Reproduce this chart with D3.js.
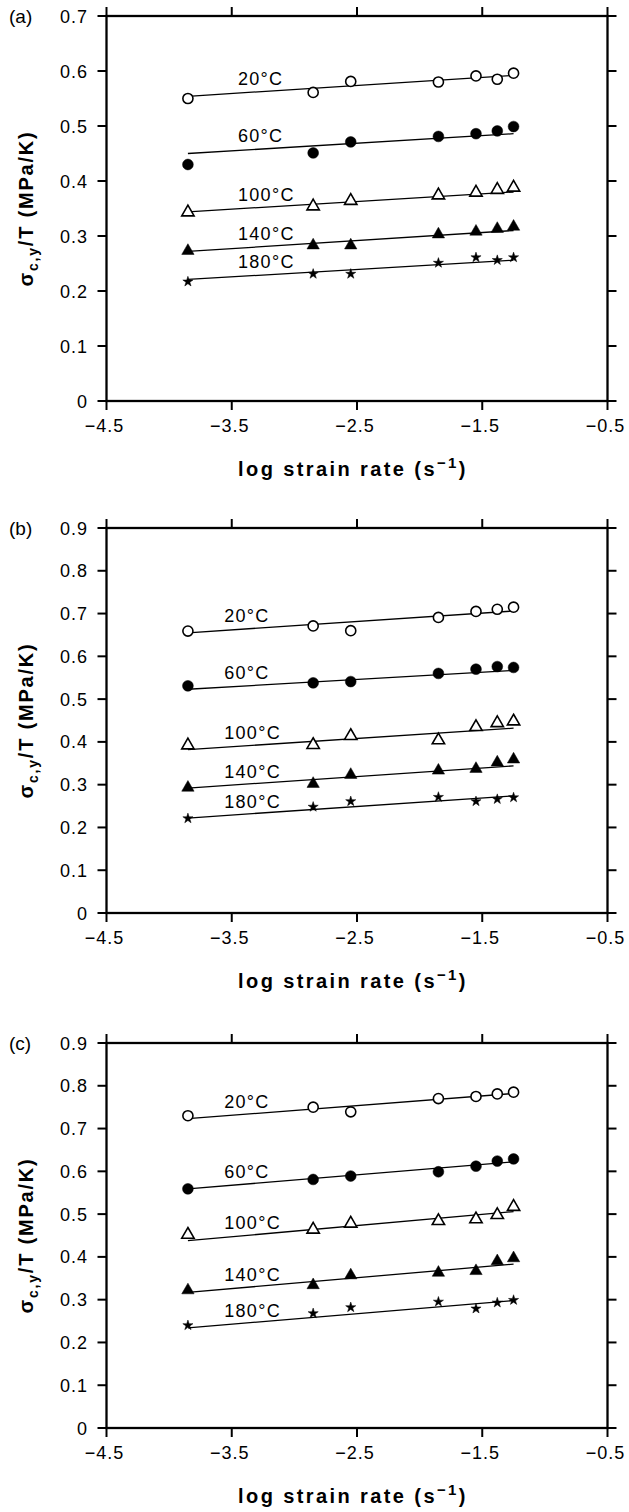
<!DOCTYPE html>
<html>
<head>
<meta charset="utf-8">
<script src="https://cdn.jsdelivr.net/npm/d3@7/dist/d3.min.js"></script>
<style>
body { margin: 0; background: #fff; }
svg { display: block; }
text { font-family: "Liberation Sans", Arial, Helvetica, sans-serif; fill: #000; }
</style>
</head>
<body>
<svg width="629" height="1512"></svg>
<script>
// ---- data ----

// log strain rate of the tests (same in every panel)
const logRates = [-3.85, -2.85, -2.55, -1.85, -1.55, -1.38, -1.25];
const temps = ["20°C", "60°C", "100°C", "140°C", "180°C"];
const panelNames = ["(a)", "(b)", "(c)"];
const yMaxes = [0.7, 0.9, 0.9];
const xTicks = [-4.5, -3.5, -2.5, -1.5, -0.5];

// sigma_c,y / T (MPa/K), one row per temperature
const valsA = [
    [0.550, 0.561, 0.581, 0.580, 0.591, 0.585, 0.596],
    [0.430, 0.451, 0.471, 0.481, 0.486, 0.491, 0.499],
    [0.343, 0.354, 0.364, 0.374, 0.379, 0.384, 0.388],
    [0.273, 0.283, 0.283, 0.303, 0.308, 0.313, 0.317],
    [0.217, 0.231, 0.231, 0.251, 0.261, 0.256, 0.261]
];
const valsB = [
    [0.659, 0.671, 0.660, 0.691, 0.705, 0.710, 0.715],
    [0.531, 0.538, 0.541, 0.560, 0.570, 0.576, 0.574],
    [0.392, 0.393, 0.414, 0.404, 0.435, 0.444, 0.448],
    [0.293, 0.302, 0.323, 0.333, 0.337, 0.352, 0.359],
    [0.221, 0.248, 0.261, 0.271, 0.261, 0.266, 0.270]
];
const valsC = [
    [0.730, 0.750, 0.739, 0.770, 0.775, 0.781, 0.785],
    [0.559, 0.581, 0.589, 0.599, 0.612, 0.624, 0.629],
    [0.452, 0.464, 0.478, 0.484, 0.488, 0.498, 0.517],
    [0.322, 0.334, 0.357, 0.363, 0.367, 0.390, 0.397],
    [0.240, 0.268, 0.282, 0.295, 0.279, 0.293, 0.299]
];

// model lines: value at first and last strain rate
const fitA = [[0.554, 0.592], [0.450, 0.486], [0.344, 0.380], [0.272, 0.310], [0.221, 0.256]];
const fitB = [[0.655, 0.706], [0.523, 0.567], [0.382, 0.432], [0.292, 0.344], [0.222, 0.274]];
const fitC = [[0.723, 0.782], [0.559, 0.622], [0.438, 0.506], [0.317, 0.383], [0.234, 0.298]];

// where the temperature labels start (log strain rate)
const labelX = [-3.45, -3.56, -3.56];

const panels = [
    { vals: valsA, fit: fitA, top: 16, bottom: 401 },
    { vals: valsB, fit: fitB, top: 528, bottom: 913 },
    { vals: valsC, fit: fitC, top: 1043, bottom: 1428 }
];

// marker per temperature
const symbols = [d3.symbolCircle, d3.symbolCircle, d3.symbolTriangle, d3.symbolTriangle, d3.symbolStar];
const symSize = [80, 92, 66, 66, 32];
const filled = [false, true, false, true, true];

// ---- drawing ----

const svg = d3.select("svg");
const left = 106.5, right = 607.5;

const x = d3.scaleLinear().domain([-4.5, -0.5]).range([left, right]);

panels.forEach((p, k) => {
    const g = svg.append("g");
    const yMax = yMaxes[k];
    const y = d3.scaleLinear().domain([0, yMax]).range([p.bottom, p.top]);
    const yTicks = d3.range(0, Math.round(yMax * 10) + 1).map(i => i / 10);

    // frame
    g.append("rect")
        .attr("x", left).attr("y", p.top)
        .attr("width", right - left).attr("height", p.bottom - p.top)
        .attr("fill", "none").attr("stroke", "#000").attr("stroke-width", 2.3);

    const tick = (sel) => sel.attr("stroke", "#000").attr("stroke-width", 2);
    yTicks.forEach(v => {
        g.append("line").attr("x1", left - 9).attr("x2", left).attr("y1", y(v)).attr("y2", y(v)).call(tick);
        g.append("line").attr("x1", right).attr("x2", right + 9).attr("y1", y(v)).attr("y2", y(v)).call(tick);
        g.append("text")
            .attr("x", 88).attr("y", y(v) + 6.5)
            .attr("text-anchor", "end")
            .attr("font-size", 18).attr("letter-spacing", 1)
            .text(v === 0 ? "0" : d3.format(".1f")(v));
    });
    xTicks.forEach(v => {
        g.append("line").attr("x1", x(v)).attr("x2", x(v)).attr("y1", p.top - 9).attr("y2", p.top).call(tick);
        g.append("line").attr("x1", x(v)).attr("x2", x(v)).attr("y1", p.bottom).attr("y2", p.bottom + 9).call(tick);
        g.append("text")
            .attr("x", x(v) - 2).attr("y", p.bottom + 31)
            .attr("text-anchor", "middle")
            .attr("font-size", 18).attr("letter-spacing", 1)
            .text(d3.format(".1f")(v).replace("-", "\u2212"));
    });

    // panel letter
    g.append("text").attr("x", 9).attr("y", p.top + 7)
        .attr("font-size", 19).text(panelNames[k]);

    // axis titles
    const xt = g.append("text")
        .attr("x", 353).attr("y", p.bottom + 75)
        .attr("text-anchor", "middle")
        .attr("font-size", 20).attr("font-weight", "bold").attr("letter-spacing", 2.4);
    xt.append("tspan").text("log strain rate (s");
    xt.append("tspan").attr("dy", -8).attr("font-size", 15).text("\u22121");
    xt.append("tspan").attr("dy", 8).text(")");

    const cy = (p.top + p.bottom) / 2;
    const yt = g.append("text")
        .attr("transform", `translate(33,${cy}) rotate(-90)`)
        .attr("text-anchor", "middle")
        .attr("font-size", 20).attr("font-weight", "bold").attr("letter-spacing", 1.8);
    yt.append("tspan").text("σ");
    yt.append("tspan").attr("dy", 5).attr("font-size", 14).text("c,y");
    yt.append("tspan").attr("dy", -5).text("/T (MPa/K)");

    const x0 = logRates[0], x1 = logRates[logRates.length - 1];

    p.vals.forEach((row, s) => {
        const [f0, f1] = p.fit[s];
        // model line
        g.append("line")
            .attr("x1", x(x0)).attr("y1", y(f0))
            .attr("x2", x(x1)).attr("y2", y(f1))
            .attr("stroke", "#000").attr("stroke-width", 1.3);

        // label above the line
        const lx = labelX[k];
        const ly = f0 + (f1 - f0) * (lx - x0) / (x1 - x0);
        g.append("text")
            .attr("x", x(lx)).attr("y", y(ly) - 8)
            .attr("font-size", 18).attr("letter-spacing", 1.3)
            .text(temps[s]);

        // points
        const sym = d3.symbol().type(symbols[s]).size(symSize[s]);
        g.selectAll(null)
            .data(row)
            .enter().append("path")
            .attr("d", sym)
            .attr("transform", (d, i) => `translate(${x(logRates[i])},${y(d)})`)
            .attr("fill", filled[s] ? "#000" : "#fff")
            .attr("stroke", "#000")
            .attr("stroke-width", filled[s] ? 0.5 : 1.6);
    });
});
</script>
</body>
</html>
